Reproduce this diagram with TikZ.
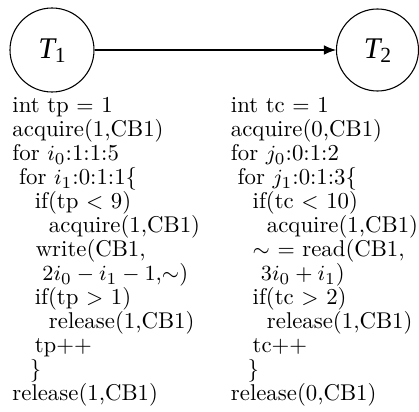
\documentclass[tikz,border=0pt]{standalone}
\usepackage{fontspec}
\usetikzlibrary{arrows.meta}
\newfontfamily\tfont{Liberation Serif}
\begin{document}
\begin{tikzpicture}[x=0.4167pt,y=-0.4167pt,
  task/.style={draw,circle,line width=0.45pt,minimum size=84*0.4167pt,inner sep=0pt},
  codeline/.style={anchor=base west,inner sep=0pt,font=\fontsize{9.5}{11}\selectfont},
  tlabel/.style={font=\tfont\fontsize{12.5}{14}\selectfont}]
\useasboundingbox (0,0) rectangle (419,412);
\node[task] (t1) at (52,50) {};
\node[task,minimum size=82*0.4167pt] (t2) at (377.5,50) {};
\node[tlabel] (l1) at (52,51) {\itshape T\raisebox{-0.3ex}{\upshape\fontsize{9}{10}\selectfont 1}};
\node[tlabel] (l2) at (377.5,51) {\itshape T\raisebox{-0.3ex}{\upshape\fontsize{9}{10}\selectfont 2}};
\draw[line width=0.45pt,-{Latex[length=5pt,width=4pt]}] (t1) -- (t2);
% left column
\node[codeline] (a1)  at (12,113) {int tp $=$ 1};
\node[codeline] (a2)  at (12,137) {acquire(1,CB1)};
\node[codeline] (a3)  at (12,161) {for $i_0$:1:1:5};
\node[codeline] (a4)  at (18.7,185) {for $i_1$:0:1:1\{};
\node[codeline] (a5)  at (34.3,209) {if(tp $<$ 9)};
\node[codeline] (a6)  at (48.5,233) {acquire(1,CB1)};
\node[codeline] (a7)  at (35.3,257) {write(CB1,};
\node[codeline] (a8)  at (42,281) {$2i_0-i_1-1$,$\sim$)};
\node[codeline] (a9)  at (34.3,305) {if(tp $>$ 1)};
\node[codeline] (a10) at (48.5,329) {release(1,CB1)};
\node[codeline] (a11) at (34.3,353) {tp++};
\node[codeline] (a12) at (29.3,377) {\}};
\node[codeline] (a13) at (12,401) {release(1,CB1)};
% right column
\node[codeline] (b1)  at (230.5,113) {int tc $=$ 1};
\node[codeline] (b2)  at (230.5,137) {acquire(0,CB1)};
\node[codeline] (b3)  at (230.5,161) {for $j_0$:0:1:2};
\node[codeline] (b4)  at (237.2,185) {for $j_1$:0:1:3\{};
\node[codeline] (b5)  at (252.2,209) {if(tc $<$ 10)};
\node[codeline] (b6)  at (266.5,233) {acquire(1,CB1)};
\node[codeline] (b7)  at (252.2,257) {$\sim$ $=$ read(CB1,};
\node[codeline] (b8)  at (260.5,281) {$3i_0+i_1$)};
\node[codeline] (b9)  at (252.2,305) {if(tc $>$ 2)};
\node[codeline] (b10) at (266.5,329) {release(1,CB1)};
\node[codeline] (b11) at (252.2,353) {tc++};
\node[codeline] (b12) at (247.2,377) {\}};
\node[codeline] (b13) at (230.5,401) {release(0,CB1)};
\end{tikzpicture}
\end{document}
